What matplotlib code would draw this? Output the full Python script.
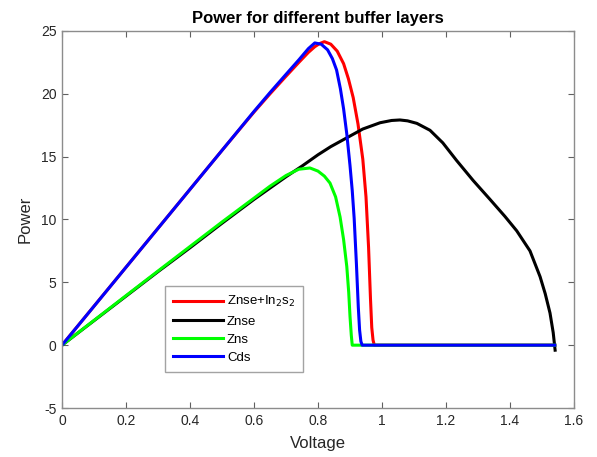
import matplotlib
matplotlib.use("Agg")
import matplotlib.pyplot as plt
from matplotlib.ticker import FuncFormatter

plt.rcParams['font.family'] = ['Liberation Sans', 'DejaVu Sans']

# Znse+In2s2 (red)
v_red = [0, 0.1, 0.2, 0.3, 0.4, 0.5, 0.6, 0.65, 0.7, 0.74, 0.77, 0.79, 0.805, 0.82, 0.84,
         0.86, 0.88, 0.895, 0.91, 0.925, 0.94, 0.95, 0.958, 0.964, 0.968, 0.972, 0.976, 1.54]
p_red = [0, 3.1, 6.2, 9.3, 12.4, 15.5, 18.55, 20.0, 21.4, 22.5, 23.3, 23.75, 24.0, 24.15, 23.95,
         23.4, 22.4, 21.2, 19.7, 17.6, 14.8, 11.8, 7.8, 3.7, 1.4, 0.4, 0, 0]

# Znse (black)
v_black = [0, 0.1, 0.2, 0.3, 0.4, 0.5, 0.6, 0.7, 0.75, 0.8, 0.84, 0.89, 0.94, 0.994, 1.03,
           1.056, 1.08, 1.109, 1.15, 1.19, 1.233, 1.285, 1.3375, 1.384, 1.421, 1.4625,
           1.494, 1.51, 1.525, 1.535, 1.541]
p_black = [0, 1.95, 3.9, 5.85, 7.75, 9.7, 11.6, 13.4, 14.25, 15.15, 15.8, 16.5, 17.2, 17.7, 17.88,
           17.92, 17.85, 17.65, 17.1, 16.1, 14.7, 13.1, 11.6, 10.25, 9.1, 7.5,
           5.45, 4.1, 2.56, 1.0, -0.4]

# Zns (green)
v_green = [0, 0.1, 0.2, 0.3, 0.4, 0.5, 0.6, 0.65, 0.7, 0.74, 0.775, 0.80, 0.82, 0.8375,
           0.855, 0.869, 0.88, 0.89, 0.896, 0.9, 0.904, 0.907, 1.54]
p_green = [0, 1.97, 3.94, 5.9, 7.85, 9.8, 11.7, 12.65, 13.5, 14.0, 14.1, 13.85, 13.45, 12.9,
           11.8, 10.2, 8.4, 6.25, 4.2, 2.3, 0.8, 0, 0]

# Cds (blue)
v_blue = [0, 0.1, 0.2, 0.3, 0.4, 0.5, 0.6, 0.65, 0.7, 0.74, 0.77, 0.79, 0.81, 0.83,
          0.845, 0.858, 0.87, 0.88, 0.89, 0.9, 0.907, 0.913, 0.92, 0.926, 0.93, 0.934,
          0.938, 1.54]
p_blue = [0, 3.1, 6.2, 9.3, 12.4, 15.5, 18.6, 20.1, 21.55, 22.7, 23.6, 24.05, 23.95, 23.5,
          22.8, 21.9, 20.4, 18.8, 16.8, 14.3, 12.3, 10.1, 6.5, 3.0, 1.2, 0.3,
          0, 0]

labels = ['Znse+In$_2$s$_2$', 'Znse', 'Zns', 'Cds']
colors = ['#ff0000', '#000000', '#00ff00', '#0000ff']

x_ticks = [0, 0.2, 0.4, 0.6, 0.8, 1, 1.2, 1.4, 1.6]
y_ticks = [-5, 0, 5, 10, 15, 20, 25]

fig = plt.figure(figsize=(5.97, 4.57), dpi=100)
ax = fig.add_axes([62/597, 1-408/457, 512/597, 377/457])

for v, p, lab, c in zip([v_red, v_black, v_green, v_blue],
                        [p_red, p_black, p_green, p_blue], labels, colors):
    ax.plot(v, p, color=c, lw=2.2, label=lab, solid_joinstyle='round')

ax.set_xlim(0, 1.6)
ax.set_ylim(-5, 25)
ax.set_xticks(x_ticks)
ax.set_yticks(y_ticks)
ax.xaxis.set_major_formatter(FuncFormatter(lambda x, p: f"{x:g}"))
ax.yaxis.set_major_formatter(FuncFormatter(lambda x, p: f"{x:g}"))

for s in ax.spines.values():
    s.set_color('#8c8c8c')
    s.set_linewidth(1.0)
ax.tick_params(direction='in', top=True, right=True, length=4, width=0.8,
               color='#606060', labelsize=10, labelcolor='#262626', pad=4)

ax.set_xlabel('Voltage', fontsize=12, color='#262626', labelpad=6)
ax.set_ylabel('Power', fontsize=12, color='#262626', labelpad=6)
ax.set_title('Power for different buffer layers', fontsize=12, fontweight='bold', pad=6)

leg = ax.legend(loc='lower left', bbox_to_anchor=(0.201, 0.096), fontsize=9.5,
                frameon=True, fancybox=False, edgecolor='#8c8c8c', handlelength=3.8,
                handletextpad=0.3, labelspacing=0.45, borderpad=0.6, borderaxespad=0)
leg.get_frame().set_linewidth(1.0)

fig.savefig('out.png', dpi=100)
